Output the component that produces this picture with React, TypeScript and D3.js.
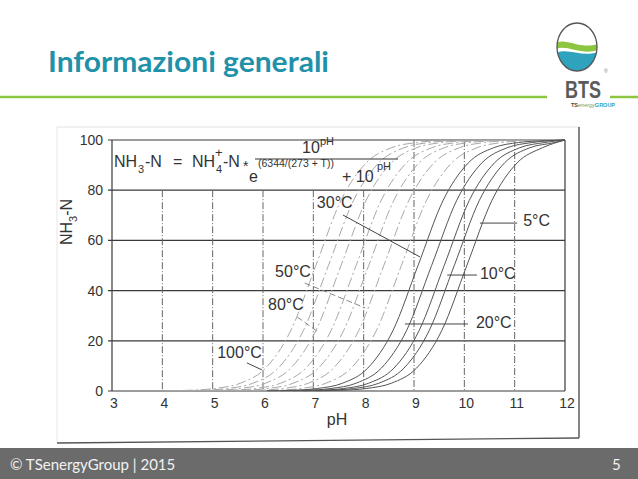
import React from "react";
import * as d3 from "d3";

// ---- data ----
const pHTicks = [3, 4, 5, 6, 7, 8, 9, 10, 11, 12];
const nh3Ticks = [0, 20, 40, 60, 80, 100];

// [pH, NH3-N %] (dash-dot = high temperatures)
const curve100 = [[4.05, 0.1], [4.55, 0.3], [5.05, 1], [5.55, 3.1], [6.05, 9.1], [6.55, 24], [7.05, 50], [7.55, 76], [8.05, 90.9], [8.55, 96.9], [9.05, 99], [9.55, 99.7], [12, 100]];
const curve90 = [[4.3, 0.1], [4.8, 0.3], [5.3, 1], [5.8, 3.1], [6.3, 9.1], [6.8, 24], [7.3, 50], [7.8, 76], [8.3, 90.9], [8.8, 96.9], [9.3, 99], [9.8, 99.7], [12, 100]];
const curve80 = [[4.55, 0.1], [5.05, 0.3], [5.55, 1], [6.05, 3.1], [6.55, 9.1], [7.05, 24], [7.55, 50], [8.05, 76], [8.55, 90.9], [9.05, 96.9], [9.55, 99], [10.05, 99.7], [12, 100]];
const curve70 = [[4.85, 0.1], [5.35, 0.3], [5.85, 1], [6.35, 3.1], [6.85, 9.1], [7.35, 24], [7.85, 50], [8.35, 76], [8.85, 90.9], [9.35, 96.9], [9.85, 99], [10.35, 99.7], [12, 100]];
const curve60 = [[5.1, 0.1], [5.6, 0.3], [6.1, 1], [6.6, 3.1], [7.1, 9.1], [7.6, 24], [8.1, 50], [8.6, 76], [9.1, 90.9], [9.6, 96.9], [10.1, 99], [10.6, 99.7], [12, 100]];
const curve50 = [[5.4, 0.1], [5.9, 0.3], [6.4, 1], [6.9, 3.1], [7.4, 9.1], [7.9, 24], [8.4, 50], [8.9, 76], [9.4, 90.9], [9.9, 96.9], [10.4, 99], [10.9, 99.7], [12, 100]];
const curve40 = [[5.75, 0.1], [6.25, 0.3], [6.75, 1], [7.25, 3.1], [7.75, 9.1], [8.25, 24], [8.75, 50], [9.25, 76], [9.75, 90.9], [10.25, 96.9], [10.75, 99], [11.25, 99.7], [12, 100]];
const curve30 = [[6.08, 0.1], [6.58, 0.3], [7.08, 1], [7.58, 3.1], [8.08, 9.1], [8.58, 24], [9.08, 50], [9.58, 76], [10.08, 90.9], [10.58, 96.9], [11.08, 99], [11.58, 99.7], [12, 100]];
const curve20 = [[6.35, 0.1], [6.85, 0.3], [7.35, 1], [7.85, 3.1], [8.35, 9.1], [8.85, 24], [9.35, 50], [9.85, 76], [10.35, 90.9], [10.85, 96.9], [11.35, 99], [12, 100]];
const curve15 = [[6.6, 0.1], [7.1, 0.3], [7.6, 1], [8.1, 3.1], [8.6, 9.1], [9.1, 24], [9.6, 50], [10.1, 76], [10.6, 90.9], [11.1, 96.9], [11.6, 99], [12, 100]];
const curve10 = [[6.8, 0.1], [7.3, 0.3], [7.8, 1], [8.3, 3.1], [8.8, 9.1], [9.3, 24], [9.8, 50], [10.3, 76], [10.8, 90.9], [11.3, 96.9], [11.8, 99], [12, 100]];
const curve5 = [[7.05, 0.1], [7.55, 0.3], [8.05, 1], [8.55, 3.1], [9.05, 9.1], [9.55, 24], [10.05, 50], [10.55, 76], [11.05, 90.9], [11.55, 96.9], [12, 100]];

const dashedCurves = [curve100, curve90, curve80, curve70, curve60, curve50, curve40];
const solidCurves = [curve30, curve20, curve15, curve10, curve5];

const labelTexts = ["100°C", "80°C", "50°C", "30°C", "20°C", "10°C", "5°C"];
const labelAnchors = [[5.09, 13.1], [6.1, 32.3], [6.24, 45.4], [7.07, 72.9], [10.23, 25.1], [10.31, 44.6], [11.17, 65.7]];
const leaderLines = [
  [[5.68, 11.2], [5.98, 8.4]],
  [[6.68, 29.5], [7.07, 23.9]],
  [[6.83, 43], [8.03, 33.1]],
  [[7.59, 70.1], [9.12, 53.4]],
  [[8.82, 26.7], [10.07, 26.7]],
  [[9.66, 46.2], [10.25, 46.2]],
  [[10.31, 66.9], [11.05, 66.9]],
];
const leaderDashed = [false, true, true, false, false, false, false];

const W = 638;
const H = 479;
const chartFont = "'Liberation Sans', Arial, sans-serif";
const slideFont = "Lato, 'Open Sans', sans-serif";

export default function App() {
  const x = d3.scaleLinear().domain([3, 12]).range([112, 565]);
  const y = d3.scaleLinear().domain([0, 100]).range([391, 140]);
  const line = d3
    .line<number[]>()
    .x((d) => x(d[0]))
    .y((d) => y(d[1]))
    .curve(d3.curveMonotoneX);

  return (
    <svg
      width={W}
      height={H}
      style={{ position: "absolute", left: 0, top: 0, background: "#fff" }}
      xmlns="http://www.w3.org/2000/svg"
    >
      <rect x={0} y={0} width={W} height={H} fill="#fff" />
      {/* slide header */}
      <text
        x={48}
        y={72}
        fontFamily={slideFont}
        fontWeight={700}
        fontSize={28}
        fill="#1f91a9"
        textLength={281}
        lengthAdjust="spacingAndGlyphs"
      >
        Informazioni generali
      </text>
      <line x1={0} x2={547} y1={97} y2={97} stroke="#8cc540" strokeWidth={2.5} />
      <line x1={610} x2={638} y1={97} y2={97} stroke="#8cc540" strokeWidth={2.5} />

      {/* logo */}
      <defs>
        <clipPath id="logoClip">
          <ellipse cx={577} cy={47} rx={20} ry={24} />
        </clipPath>
      </defs>
      <ellipse cx={577} cy={47} rx={20} ry={24} fill="#fff" />
      <g clipPath="url(#logoClip)">
        <path d="M556,43 C566,37 580,50 598,44 L598,50 C582,56 566,44 556,49 Z" fill="#8cc540" />
        <path d="M556,53 C568,47 582,58 598,52 L598,72 L556,72 Z" fill="#2fa3bd" />
      </g>
      <ellipse cx={577} cy={47} rx={20} ry={24} fill="none" stroke="#555" strokeWidth={1.3} />
      <text
        x={565}
        y={98}
        fontFamily={chartFont}
        fontWeight={700}
        fontSize={24}
        fill="#5b5b5b"
        textLength={36}
        lengthAdjust="spacingAndGlyphs"
      >
        BTS
      </text>
      <text x={604} y={73} fontFamily={chartFont} fontSize={5} fill="#777">®</text>
      <text x={571} y={107} fontFamily={chartFont} fontSize={5.5} fontWeight={700}>
        <tspan fill="#444">TS</tspan>
        <tspan fill="#7aa050" fontStyle="italic" fontWeight={400}>energy</tspan>
        <tspan fill="#2fa3bd">GROUP</tspan>
      </text>

      {/* scanned frame */}
      <line x1={57} x2={579} y1={127} y2={127} stroke="#e2e2e2" strokeWidth={1} />
      <line x1={57} x2={57} y1={127} y2={443} stroke="#e6e6e6" strokeWidth={1} />
      <line x1={579} x2={579} y1={127} y2={438} stroke="#333" strokeWidth={1.2} />
      <line x1={57} x2={579} y1={443} y2={438} stroke="#555" strokeWidth={1.3} />

      {/* grid */}
      {nh3Ticks.map((t) => (
        <line key={"h" + t} x1={x(3) - 4} x2={x(12)} y1={y(t)} y2={y(t)} stroke="#3a3a3a" strokeWidth={1.2} />
      ))}
      {pHTicks.slice(1, -1).map((t) => (
        <line
          key={"v" + t}
          x1={x(t)}
          x2={x(t)}
          y1={t >= 9 ? y(100) : y(80)}
          y2={y(0)}
          stroke="#666"
          strokeWidth={1}
          strokeDasharray="7,2,1,2"
        />
      ))}
      <line x1={x(3)} x2={x(3)} y1={y(100)} y2={y(0)} stroke="#3a3a3a" strokeWidth={1.2} />
      <line x1={x(12)} x2={x(12)} y1={y(100)} y2={y(0)} stroke="#3a3a3a" strokeWidth={1.2} />

      {/* curves */}
      {dashedCurves.map((c, i) => (
        <path key={"d" + i} d={line(c) || ""} fill="none" stroke="#a8a8a8" strokeWidth={1} strokeDasharray="10,3,2,3" />
      ))}
      {solidCurves.map((c, i) => (
        <path key={"s" + i} d={line(c) || ""} fill="none" stroke="#555" strokeWidth={1} />
      ))}

      {/* tick labels */}
      {nh3Ticks.map((t) => (
        <text key={"yl" + t} x={103} y={y(t) + 5} textAnchor="end" fontFamily={chartFont} fontSize={14} fill="#333">
          {t}
        </text>
      ))}
      {pHTicks.map((t) => (
        <text key={"xl" + t} x={x(t) + 2} y={408} textAnchor="middle" fontFamily={chartFont} fontSize={14} fill="#333">
          {t}
        </text>
      ))}
      <text x={337} y={425} textAnchor="middle" fontFamily={chartFont} fontSize={16} fill="#333">
        pH
      </text>
      <text transform="translate(72,222) rotate(-90)" textAnchor="middle" fontFamily={chartFont} fontSize={16} fill="#333">
        NH<tspan fontSize={11} dy={5}>3</tspan>
        <tspan dy={-5}>-N</tspan>
      </text>

      {/* formula */}
      <g fontFamily={chartFont} fill="#333">
        <text x={114} y={167} fontSize={16}>NH</text>
        <text x={138} y={173} fontSize={11}>3</text>
        <text x={145} y={167} fontSize={16}>-N</text>
        <text x={173} y={167} fontSize={16}>=</text>
        <text x={192} y={167} fontSize={16}>NH</text>
        <text x={216} y={173} fontSize={11}>4</text>
        <text x={215} y={157} fontSize={13}>+</text>
        <text x={223} y={167} fontSize={16}>-N</text>
        <text x={243} y={171} fontSize={14}>*</text>
        <text x={302} y={153} fontSize={16}>10</text>
        <text x={320} y={145} fontSize={11}>pH</text>
        <text x={249} y={182} fontSize={16}>e</text>
        <text x={258} y={167} fontSize={10.5}>(6344/(273 + T))</text>
        <text x={342} y={182} fontSize={16}>+ 10</text>
        <text x={377} y={170} fontSize={11}>pH</text>
      </g>
      <line x1={255} x2={398} y1={159} y2={159} stroke="#333" strokeWidth={1} />

      {/* annotations */}
      {leaderLines.map((l, i) => (
        <line
          key={"ll" + i}
          x1={x(l[0][0])}
          y1={y(l[0][1])}
          x2={x(l[1][0])}
          y2={y(l[1][1])}
          stroke={leaderDashed[i] ? "#888" : "#444"}
          strokeWidth={1}
          strokeDasharray={leaderDashed[i] ? "6,3" : undefined}
        />
      ))}
      {labelTexts.map((t, i) => (
        <text key={"lt" + i} x={x(labelAnchors[i][0])} y={y(labelAnchors[i][1])} fontFamily={chartFont} fontSize={16} fill="#333">
          {t}
        </text>
      ))}

      {/* footer */}
      <rect x={0} y={448} width={W} height={H - 448} fill="#6b6b6b" />
      <text x={10} y={470} fontFamily={slideFont} fontSize={15} fill="#f2f2f2">
        © TSenergyGroup | 2015
      </text>
      <text x={612} y={470} fontFamily={slideFont} fontSize={15} fill="#f2f2f2">
        5
      </text>
    </svg>
  );
}
